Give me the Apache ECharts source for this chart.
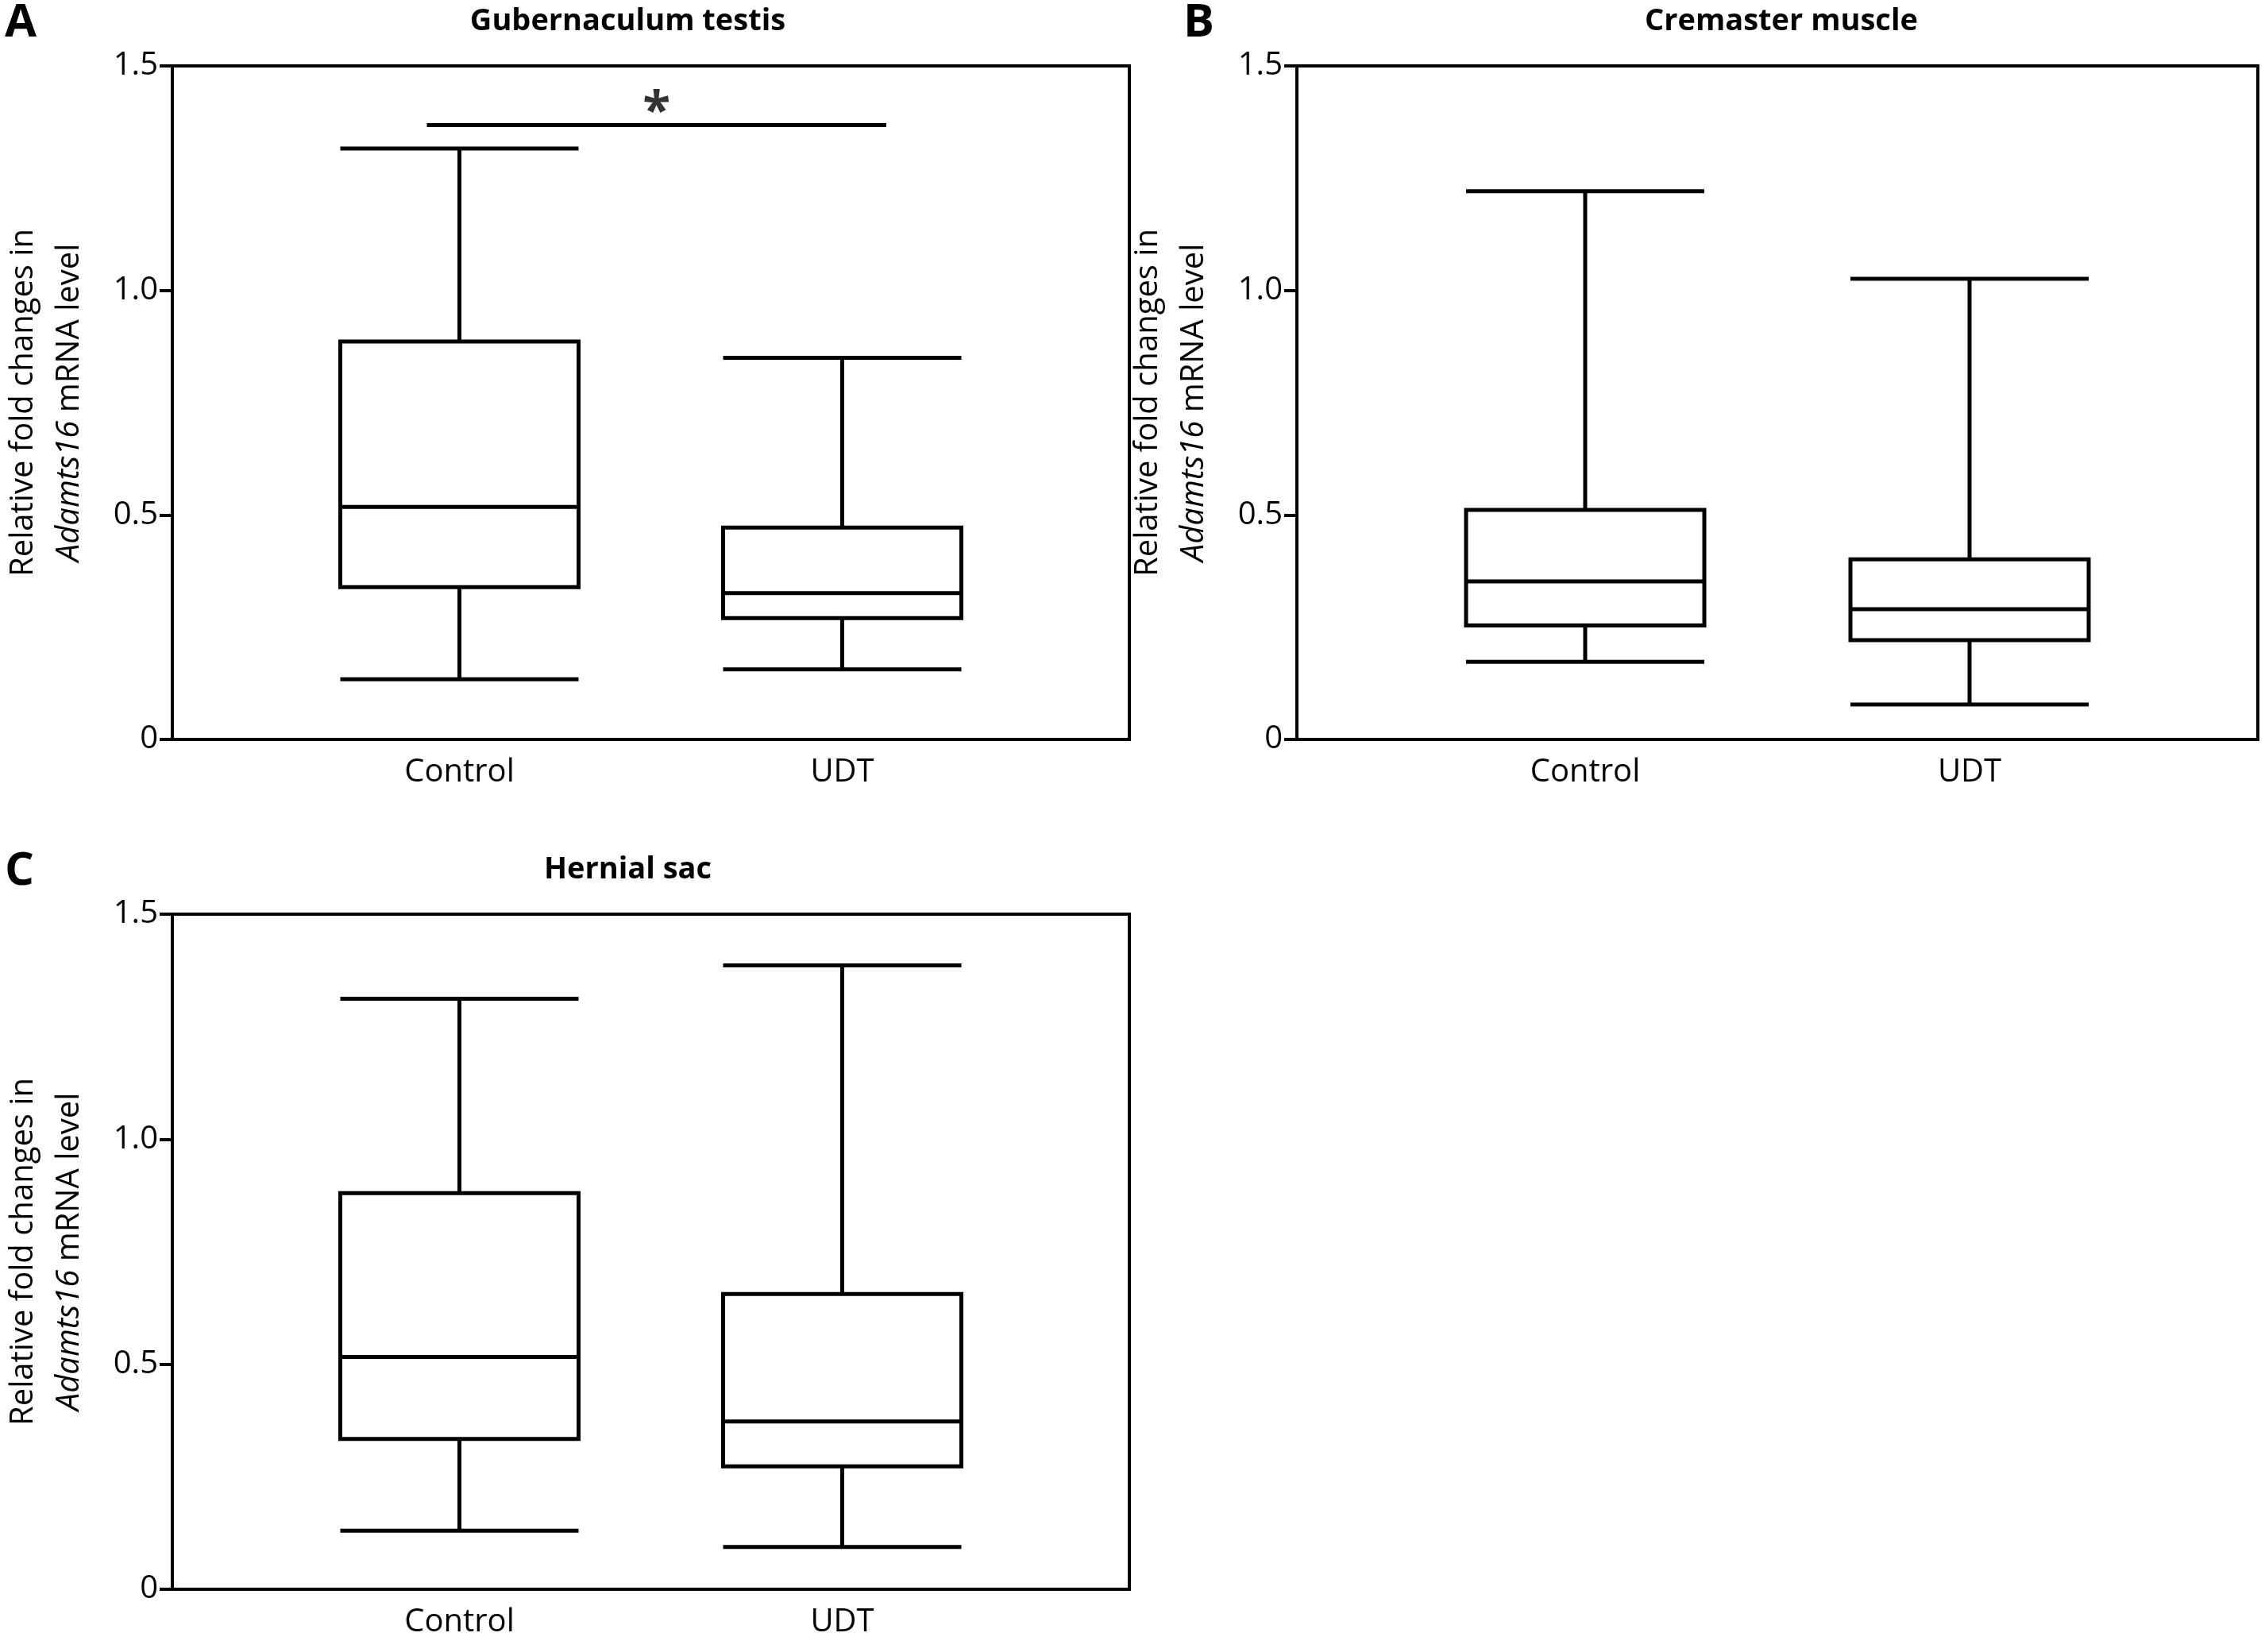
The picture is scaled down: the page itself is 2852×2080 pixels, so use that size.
<!DOCTYPE html>
<html>
<head>
<meta charset="utf-8">
<script src="https://cdn.jsdelivr.net/npm/echarts@6/dist/echarts.min.js"></script>
<style>html,body{margin:0;background:#fff}#c{width:2852px;height:2080px}</style>
</head>
<body>
<div id="c"></div>
<script>
// categories (blank slots only used for spacing)
var cats = ['', 'Control', '', 'UDT', ''];
var yTicks = ['0', '0.5', '1.0', '1.5'];
var titles = ['Gubernaculum testis', 'Cremaster muscle', 'Hernial sac'];
var letters = ['A', 'B', 'C'];
// [min, Q1, median, Q3, max]
var gubControl = [0.134, 0.339, 0.518, 0.886, 1.316];
var gubUDT = [0.156, 0.270, 0.326, 0.472, 0.850];
var creControl = [0.173, 0.254, 0.352, 0.511, 1.221];
var creUDT = [0.078, 0.221, 0.290, 0.401, 1.026];
var herControl = [0.130, 0.334, 0.516, 0.880, 1.312];
var herUDT = [0.094, 0.273, 0.373, 0.656, 1.386];
var sigBar = [[0.266, 1.368], [0.746, 1.368]];
var sigStar = [[0.506, 1.368]];

var panels = [[gubControl, gubUDT], [creControl, creUDT], [herControl, herUDT]];
var grids = [
  {left: 149, top: 83, width: 1273, height: 848},
  {left: 1633, top: 83, width: 1210, height: 848},
  {left: 149, top: 1151, width: 1273, height: 850}
];
var font = 'Open Sans';
var showIdx = function (i) { return i === 1 || i === 3; };

var option = {
  animation: false,
  textStyle: {fontFamily: font},
  title: [], grid: [], xAxis: [], yAxis: [], series: []
};
grids.forEach(function (g, k) {
  option.grid.push({left: g.left, top: g.top, width: g.width, height: g.height,
    show: true, borderColor: '#000', borderWidth: 4, backgroundColor: 'transparent'});
  option.title.push({text: titles[k], left: g.left + g.width / 2, textAlign: 'center',
    top: g.top - 80, textStyle: {fontFamily: font, fontSize: 38, fontWeight: 'bold', color: '#000'}});
  option.title.push({text: letters[k], left: g.left - 148, top: g.top - 88,
    textStyle: {fontFamily: font, fontSize: 58, fontWeight: 'bold', color: '#000'}});
  option.xAxis.push({type: 'category', gridIndex: k, data: cats,
    axisLine: {lineStyle: {color: '#000', width: 4}},
    axisTick: {interval: function (i) { return showIdx(i); }, alignWithLabel: true, length: 16, lineStyle: {color: '#000', width: 4}},
    axisLabel: {interval: function (i) { return showIdx(i); }, fontSize: 40, color: '#000', margin: 22},
    splitLine: {show: false}});
  option.yAxis.push({type: 'value', gridIndex: k, min: 0, max: 1.5, interval: 0.5,
    axisLine: {show: true, lineStyle: {color: '#000', width: 4}},
    axisTick: {show: true, length: 16, lineStyle: {color: '#000', width: 4}},
    axisLabel: {fontSize: 40, color: '#000', margin: 18,
      formatter: function (v) { return yTicks[Math.round(v / 0.5)]; }},
    splitLine: {show: false},
    name: '{a|Relative fold changes in}\n{i|Adamts16}{a| mRNA level}',
    nameLocation: 'middle', nameGap: 100, nameRotate: 90,
    nameTextStyle: {lineHeight: 58, rich: {
      a: {fontFamily: font, fontSize: 40, color: '#000', lineHeight: 58},
      i: {fontFamily: font, fontSize: 40, color: '#000', fontStyle: 'italic', lineHeight: 58}}}});
  option.series.push({type: 'boxplot', xAxisIndex: k, yAxisIndex: k, boxWidth: [300, 300],
    itemStyle: {color: '#fff', borderColor: '#000', borderWidth: 5},
    data: [{value: '-'}, panels[k][0], {value: '-'}, panels[k][1], {value: '-'}].map(function (d) { return d.value ? [] : d; })});
});
// hidden value axis for significance marker on panel A
option.xAxis.push({type: 'value', gridIndex: 0, min: 0, max: 1, show: false});
option.series.push({type: 'line', xAxisIndex: 3, yAxisIndex: 0, data: sigBar, symbol: 'none',
  lineStyle: {color: '#000', width: 5}});
option.series.push({type: 'scatter', xAxisIndex: 3, yAxisIndex: 0, data: sigStar, symbolSize: 1,
  itemStyle: {color: 'transparent'},
  label: {show: true, formatter: '*', position: 'top', distance: -18, fontSize: 64, fontWeight: 'bold', color: '#000'}});

echarts.init(document.getElementById('c')).setOption(option);
</script>
</body>
</html>
